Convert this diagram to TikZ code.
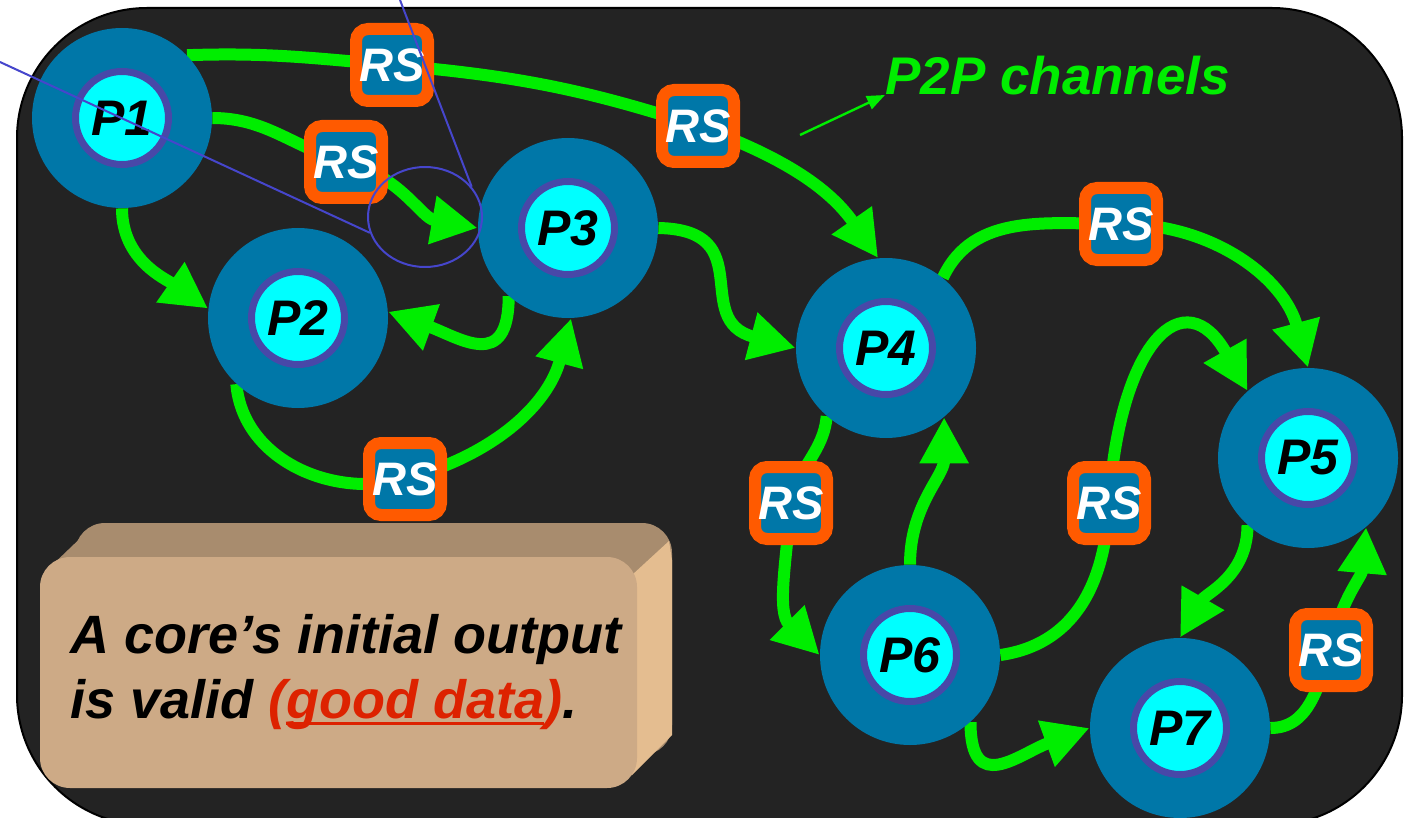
\documentclass[tikz,border=0pt]{standalone}
\usepackage{fontspec}
\setmainfont{Liberation Sans}
\usetikzlibrary{arrows.meta,positioning,shapes.geometric}
\definecolor{slate}{HTML}{232323}
\definecolor{pblue}{HTML}{0077A8}
\definecolor{coreface}{HTML}{00FFFF}
\definecolor{ring}{HTML}{4848A8}
\definecolor{chan}{HTML}{00EE00}
\definecolor{rsorange}{HTML}{FF5A00}
\definecolor{tanfront}{HTML}{CDAA86}
\definecolor{tantop}{HTML}{A88C6E}
\definecolor{tanside}{HTML}{E4BD90}
\definecolor{good}{HTML}{DD2200}
\definecolor{callout}{HTML}{4646CC}
\pgfdeclarelayer{bg}\pgfdeclarelayer{wires}\pgfsetlayers{bg,wires,main}
\newsavebox\ulbox
\newcommand\ulgood[1]{\sbox\ulbox{#1}\rlap{\rule[-3.5pt]{\wd\ulbox}{1.5pt}}\usebox\ulbox}

\begin{document}
\begin{tikzpicture}[x=0.5pt, y=-0.5pt, font=\bfseries\itshape,
  proc/.style={circle, fill=pblue, minimum size=90pt, inner sep=0pt},
  core/.style={circle, fill=coreface, draw=ring, line width=3.5pt, minimum size=46.5pt, inner sep=0pt, font=\fontsize{25}{25}\selectfont\bfseries\itshape},
  rs/.style={rounded corners=6pt, fill=pblue, draw=rsorange, line width=6pt, minimum size=36pt, inner sep=0pt, text=white, font=\fontsize{23.5}{23.5}\selectfont\bfseries\itshape},
  ch/.style={draw=chan, line width=6pt, -{Triangle[length=23pt,width=23pt]}}]
\useasboundingbox (0,0) rectangle (1412,818);
\begin{pgfonlayer}{bg}
\fill[white] (0,0) rectangle (1412,818);
\draw[black, line width=1pt, fill=slate, rounded corners=65pt] (17,8) rectangle (1402,825);
\end{pgfonlayer}

% processors
\node[proc] (p1) at (122,118) {}; \node[core] (c1) at (p1) {P1};
\node[proc] (p2) at (298,318) {}; \node[core] (c2) at (p2) {P2};
\node[proc] (p3) at (568,228) {}; \node[core] (c3) at (p3) {P3};
\node[proc] (p4) at (886,348) {}; \node[core] (c4) at (p4) {P4};
\node[proc] (p5) at (1308,458) {}; \node[core] (c5) at (p5) {P5};
\node[proc] (p6) at (910,655) {}; \node[core] (c6) at (p6) {P6};
\node[proc] (p7) at (1180,728) {}; \node[core] (c7) at (p7) {P7};

% redundancy stages
\node[rs] (rs1) at (392,65) {RS};
\node[rs] (rs2) at (346,162) {RS};
\node[rs] (rs3) at (698,126) {RS};
\node[rs] (rs4) at (405,479) {RS};
\node[rs] (rs5) at (1121,224) {RS};
\node[rs] (rs6) at (791,503) {RS};
\node[rs] (rs7) at (1109,503) {RS};
\node[rs] (rs8) at (1331,650) {RS};

\begin{pgfonlayer}{wires}
\draw[ch] (p1.44) to[out=2,in=175] (rs1.center) to[out=-5,in=162] (rs3.center) to[out=-20,in=125] (p4.95);
\draw[ch] (p1.east) to[out=0,in=165] (rs2.center) to[out=-15,in=170] (p3.west);
\draw[ch] (p1.south) to[out=-90,in=145] (p2.174);
\draw[ch] (p3.229) to[out=-90,in=-20,looseness=1.6] (p2.4);
\draw[ch] (p2.227) to[out=-85,in=195] (rs4.center) to[out=15,in=-105] (p3.-88);
\draw[ch] (p3.east) .. controls (760,230) and (690,320) .. (p4.west);
\draw[ch] (p4.51) to[out=65,in=180] (rs5.center) to[out=0,in=105] (p5.north);
\draw[ch] (p4.229) to[out=-95,in=80] (rs6.center) to[out=-95,in=135] (p6.west);
\draw[ch] (p6.north) to[out=90,in=-90] (p4.-50);
\draw[ch] (p6.east) .. controls (1070,645) and (1105,590) .. (rs7.center) .. controls (1120,340) and (1185,280) .. (p5.132);
\draw[ch] (p5.228) to[out=-90,in=60] (p7.north);
\draw[ch] (p6.-48) to[out=-90,in=200,looseness=1.6] (p7.west);
\draw[ch] (p7.east) to[out=0,in=-110] (rs8.center) to[out=80,in=-95] (p5.-50);
\end{pgfonlayer}

% label
\node[anchor=base west, inner sep=0pt, text=chan, font=\fontsize{26.5}{26.5}\selectfont\bfseries\itshape] (lbl) at (885,95) {P2P channels};
\coordinate (tail) at (800,135);
\draw[chan, line width=1.2pt, -{Triangle[length=9pt,width=7pt]}] (tail) -- (lbl.base west);

% note box
\fill[tantop, rounded corners=15pt] (75,523) rectangle (672,755);
\fill[tantop] (45,572) -- (92,527) -- (640,527) -- (637,575) -- cycle;
\fill[tanside] (632,575) -- (669,541) -- (672,560) -- (672,735) -- (632,775) -- cycle;
\fill[tanfront, rounded corners=15pt] (40,557) rectangle (637,788);
\node[anchor=west, inner sep=0pt, align=left, font=\fontsize{27}{32.5}\selectfont\bfseries\itshape] (note) at (70,672) {A core’s initial output\\is valid \textcolor{good}{(\ulgood{good data})}.};

% callout
\node[ellipse, draw=callout, line width=1pt, minimum width=57pt, minimum height=50pt, inner sep=0pt] (focus) at (425,217) {};
\coordinate (ca) at (0,62); \coordinate (cb) at (400,0);
\draw[callout, line width=1pt] (ca) -- (focus.196); \draw[callout, line width=1pt] (cb) -- (focus.33);
\end{tikzpicture}
\end{document}
